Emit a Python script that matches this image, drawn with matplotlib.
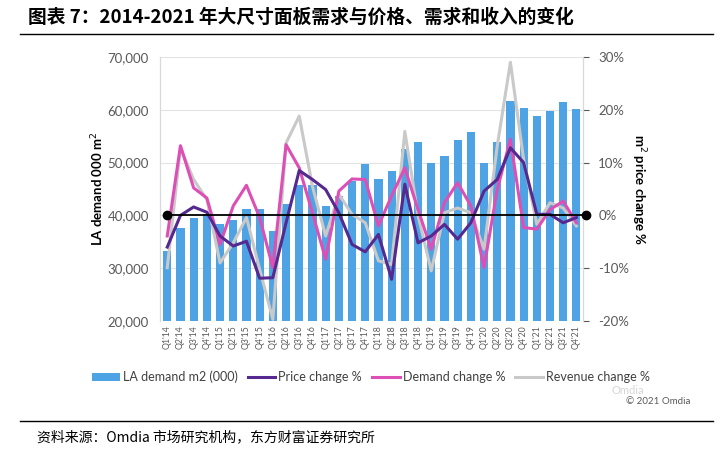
import matplotlib.pyplot as plt
import numpy as np

plt.rcParams['font.family'] = ['Lato', 'DejaVu Sans']

# quarters Q1'14 .. Q4'21
quarters = [f"Q{q}'{y}" for y in range(14, 22) for q in range(1, 5)]

# large-area panel demand, 000 m2
la_demand = [33300, 37600, 39500, 40200, 38300, 39200, 41300, 41300,
             37100, 42100, 45850, 45700, 41750, 43600, 46500, 49800,
             46900, 48400, 52500, 53900, 50000, 51200, 54360, 55800,
             49830, 53860, 61740, 60400, 58770, 59850, 61480, 60220]

# % change series (right axis)
price_chg = [-6.0, 0.0, 1.6, 0.6, -3.9, -5.8, -4.9, -11.9,
             -11.8, -1.4, 8.5, 6.8, 4.9, 0.5, -5.5, -6.9,
             -3.6, -12.1, 5.9, -5.2, -3.9, -1.7, -4.5, -1.4,
             4.6, 6.8, 12.8, 10.0, 0.2, 0.2, -1.4, -0.4]
demand_chg = [-3.9, 13.2, 5.2, 3.3, -5.5, 1.8, 5.7, -0.4,
              -9.9, 13.4, 9.0, 0.5, -8.3, 4.6, 6.9, 6.8,
              -2.0, 3.7, 9.0, 1.1, -6.4, 2.4, 6.2, 1.8,
              -9.9, 4.9, 14.4, -2.3, -2.6, 1.1, 2.7, -1.4]
revenue_chg = [-9.9, 12.8, 6.8, 3.0, -9.0, -5.2, -0.4, -10.2,
               -19.7, 13.7, 18.8, 5.5, -3.9, 4.0, 0.2, -1.4,
               -8.6, -9.3, 15.9, 0.0, -10.5, 0.5, 1.4, 0.5,
               -6.4, 13.1, 29.0, 10.6, -1.7, 2.4, 1.4, -2.0]

title = "图表 7：2014-2021 年大尺寸面板需求与价格、需求和收入的变化"
source = "资料来源：Omdia 市场研究机构，东方财富证券研究所"

bar_c = '#4DA3E4'
price_c = '#55298F'
demand_c = '#DE4FB5'
rev_c = '#C9C9C9'
tick_c = '#595959'

fig = plt.figure(figsize=(7.21, 4.53), dpi=100)
ax = fig.add_axes([160/721, 1-321/453, 423/721, 264/453])
ax2 = ax.twinx()

x = np.arange(len(quarters))
ax.bar(x, la_demand, width=0.62, color=bar_c, zorder=2, label='LA demand m2 (000)')
ax.set_ylim(20000, 70000)
ax.set_yticks(range(20000, 70001, 10000))
ax.set_yticklabels([f"{v:,}" for v in range(20000, 70001, 10000)])
ax.set_xlim(-0.55, 31.5)
ax.set_xticks(x)
ax.set_xticklabels(quarters, rotation=90, fontsize=6.3, color=tick_c)
ax.grid(axis='y', color='#E3E3E3', lw=0.8, zorder=0)
ax.set_axisbelow(True)
ax.tick_params(axis='y', colors=tick_c, labelsize=9.5, length=0, pad=8)
ax.tick_params(axis='x', length=0, pad=3)
ax.set_ylabel('LA demand 000 m$^2$', fontsize=9.5, fontweight='bold', va='center')
ax.yaxis.set_label_coords(-0.147, 0.5)

ax2.plot(x, price_chg, color=price_c, lw=2.2, zorder=4, label='Price change %')
ax2.plot(x, demand_chg, color=demand_c, lw=2.2, zorder=3, label='Demand change %')
ax2.plot(x, revenue_chg, color=rev_c, lw=2.2, zorder=2, label='Revenue change %')
ax2.plot([0, 31.7], [0, 0], color='black', lw=1.3, marker='o', ms=6, clip_on=False, zorder=5)
ax2.set_ylim(-20, 30)
ax2.set_yticks(range(-20, 31, 10))
ax2.set_yticklabels([f"{v}%" for v in range(-20, 31, 10)])
ax2.tick_params(axis='y', colors=tick_c, labelsize=9.5, length=4, pad=7)
ax2.set_ylabel('m$^2$ price change %', fontsize=9.5, fontweight='bold', rotation=270, va='center')
ax2.yaxis.set_label_coords(1.13, 0.5)

for a in (ax, ax2):
    for s in ('top', 'bottom'):
        a.spines[s].set_visible(False)
    a.spines['left'].set_color('#D9D9D9')
    a.spines['right'].set_color('#D9D9D9')

h1, l1 = ax.get_legend_handles_labels()
h2, l2 = ax2.get_legend_handles_labels()
fig.legend(h1 + h2, l1 + l2, loc='center', bbox_to_anchor=(371/721, 1-377/453),
           ncol=4, frameon=False, fontsize=9, handlelength=2.2, handletextpad=0.25,
           columnspacing=0.8, labelcolor='#404040')

fig.text(690/721, 1-401/453, '© 2021 Omdia', ha='right', va='center', fontsize=7, color='#595959')
fig.text(612/721, 1-390/453, 'Omdia', ha='left', va='center', fontsize=8, color='#BBBBBB', alpha=0.6)

fig.text(28/721, 1-17/453, title, ha='left', va='center', fontsize=13.5, fontweight='bold',
         family=['Noto Sans CJK SC', 'DejaVu Sans'])
fig.add_artist(plt.Line2D([20/721, 713/721], [1-34/453, 1-34/453], color='black', lw=1))
fig.add_artist(plt.Line2D([20/721, 713/721], [1-421/453, 1-421/453], color='black', lw=1))
fig.text(37/721, 1-437/453, source, ha='left', va='center', fontsize=10,
         family=['Noto Sans CJK SC', 'DejaVu Sans'])

fig.savefig('out.png', dpi=100)
